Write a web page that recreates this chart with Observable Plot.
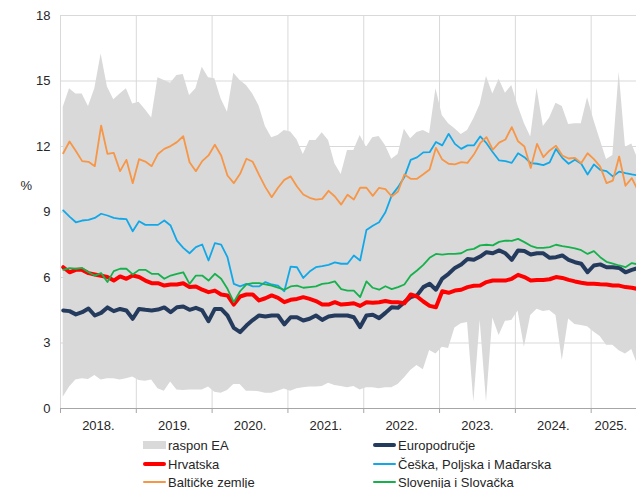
<!DOCTYPE html>
<html>
<head>
<meta charset="utf-8">
<script src="https://cdn.jsdelivr.net/npm/d3@7"></script>
<script src="https://cdn.jsdelivr.net/npm/@observablehq/plot@0.6"></script>
<style>
  html, body { margin: 0; padding: 0; background: #fff; overflow: hidden; }
  #wrap { position: relative; width: 636px; height: 488px; font-family: "Liberation Sans", Arial, sans-serif; }
  #legend { position: absolute; left: 0; top: 432px; width: 636px; height: 56px; font-size: 13px; color: #262626; }
  .item { position: absolute; height: 18px; display: flex; align-items: center; white-space: nowrap; }
  .sw { width: 23px; margin-right: 2px; flex: none; }
</style>
</head>
<body>
<div id="wrap">
  <div id="chart"></div>
  <div id="legend"></div>
</div>
<script>
// Monthly values, Jan 2018 (index 0) .. Aug 2025 (index 91), in %
const bandLow = [0.52,0.98,1.31,1.36,1.33,1.51,1.31,1.36,1.36,1.31, 1.36,1.44,1.28,1.25,1.31,0.90,0.79,1.21,0.85,0.82,
  0.85,0.85,0.85,0.98,0.75,0.70,0.82,1.10,1.10,0.79, 0.79,0.77,0.70,0.70,0.79,0.89,0.79,0.90,0.95,0.98,
  0.98,1.01,1.16,1.05,1.01,0.95,1.01,0.85,0.95,0.95, 0.90,0.95,0.95,1.10,1.40,1.74,1.97,1.77,2.66,2.50,
  2.81,2.75,3.69,3.88,3.94,0.30,4.03,0.30,4.15,3.34, 4.00,4.03,4.46,2.81,4.26,4.55,4.44,4.49,4.26,2.20,
  4.10,3.85,3.80,3.75,3.50,3.30,2.90,2.90,2.65,2.50, 2.70,1.95];
const bandHigh = [13.80,14.64,14.41,14.41,13.83,14.64,16.24,14.72,14.14,14.41, 14.64,13.95,14.03,13.68,13.31,15.15,15.02,14.90,15.25,15.30,
  14.34,14.64,15.63,15.15,15.10,14.18,13.57,15.36,15.02,14.79, 14.41,13.85,12.92,12.40,12.50,12.73,12.66,12.31,11.63,12.27,
  12.27,12.63,12.27,11.21,10.72,11.82,11.82,12.50,11.97,12.40, 12.46,12.05,11.42,11.63,12.79,12.35,12.64,12.73,12.58,14.64,
  13.42,13.04,12.81,12.55,12.73,13.27,13.92,15.21,14.41,15.08, 14.44,14.79,13.86,13.05,12.44,14.67,12.92,13.31,13.98,13.83,
  13.01,13.04,13.04,14.23,13.20,12.30,11.40,11.59,15.40,11.97, 12.12,11.40];
const europodrucje = [4.49,4.46,4.31,4.41,4.58,4.26,4.38,4.63,4.46,4.56, 4.49,4.11,4.56,4.52,4.49,4.53,4.63,4.41,4.64,4.67,
  4.52,4.61,4.49,4.00,4.56,4.56,4.26,3.69,3.50,3.80, 4.05,4.26,4.21,4.26,4.26,3.85,4.18,4.18,4.03,4.11,
  4.26,4.06,4.21,4.26,4.26,4.26,4.18,3.73,4.26,4.29, 4.14,4.38,4.64,4.61,4.87,5.10,5.18,5.56,5.71,5.44,
  5.95,6.17,6.44,6.60,6.85,6.81,6.96,7.16,7.11,7.24, 7.11,6.81,7.24,7.21,7.05,7.11,7.11,6.90,6.93,7.01,
  6.81,6.70,6.63,6.24,6.55,6.60,6.47,6.47,6.44,6.24, 6.35,6.43];
const hrvatska = [6.47,6.24,6.35,6.35,6.20,6.14,6.08,6.02,5.86,6.05, 5.94,6.09,6.02,5.86,5.74,5.74,5.63,5.68,5.68,5.74,
  5.56,5.59,5.44,5.33,5.40,5.22,5.18,4.76,5.13,5.22, 5.22,4.95,5.05,5.18,5.07,4.87,4.98,5.02,5.10,5.02,
  4.92,4.76,4.76,4.87,4.76,4.79,4.82,4.70,4.87,4.84, 4.87,4.92,4.87,4.87,4.82,5.22,5.13,4.90,4.70,4.64,
  5.37,5.30,5.40,5.44,5.56,5.62,5.63,5.79,5.86,5.86, 5.86,5.94,6.12,6.02,5.86,5.89,5.89,5.92,6.02,5.98,
  5.89,5.82,5.76,5.71,5.71,5.69,5.68,5.63,5.63,5.56, 5.53,5.47];
const ceskaPoljskaMadarska = [9.07,8.79,8.53,8.61,8.64,8.73,8.92,8.84,8.73,8.69, 8.67,8.12,8.58,8.41,8.41,8.41,8.61,8.38,7.69,7.36,
  7.11,7.39,7.51,6.78,7.57,7.51,6.93,5.71,5.59,5.71, 5.59,5.59,5.79,5.68,5.63,5.37,6.50,6.47,5.98,6.27,
  6.47,6.52,6.58,6.69,6.63,6.63,7.01,6.78,8.18,8.37, 8.53,8.99,9.76,10.14,10.60,11.39,11.50,11.73,11.74,12.21,
  12.05,12.58,12.12,11.89,12.05,12.05,12.46,12.15,11.74,11.36, 11.33,11.25,11.69,11.51,11.24,11.21,11.15,11.27,11.89,11.48,
  11.21,11.39,11.21,10.72,11.18,10.93,10.87,10.63,10.85,10.78, 10.72,10.67];
const balticke = [11.69,12.23,11.79,11.33,11.30,11.10,12.96,11.66,11.71,10.87, 11.39,10.32,11.42,11.31,11.10,11.66,11.89,12.02,12.20,12.47,
  11.28,10.87,11.33,11.59,12.08,11.59,10.67,10.32,10.75,11.44, 11.30,10.70,10.14,9.68,10.11,10.47,10.63,10.17,9.80,9.65,
  9.57,9.60,9.97,9.71,9.34,9.79,9.57,10.11,10.11,9.74, 10.11,10.05,9.71,9.94,10.72,10.52,10.52,10.73,10.95,11.94,
  11.40,11.21,11.18,11.28,11.25,11.63,12.15,12.43,11.85,12.18, 12.32,12.89,12.24,12.00,11.02,12.12,11.51,11.82,12.03,11.59,
  11.45,11.48,11.24,11.69,11.42,11.08,10.32,10.44,11.54,10.20, 10.55,9.98];
const slovenijaSlovacka = [6.35,6.43,6.40,6.44,6.24,6.09,6.20,5.79,6.29,6.40, 6.40,6.14,6.35,6.35,6.17,6.17,5.94,6.09,6.17,6.24,
  5.71,6.09,6.09,5.86,6.17,5.94,5.48,4.87,5.37,5.68, 5.74,5.74,5.68,5.63,5.54,5.44,5.59,5.63,5.53,5.56,
  5.59,5.71,5.74,5.82,5.47,5.40,5.40,5.10,5.82,5.53, 5.44,5.60,5.47,5.56,5.68,6.09,6.32,6.58,6.90,7.08,
  7.05,7.08,7.08,7.11,7.27,7.31,7.47,7.50,7.47,7.63, 7.69,7.68,7.77,7.62,7.45,7.36,7.36,7.39,7.50,7.44,
  7.39,7.33,7.25,7.08,7.21,6.93,6.72,6.64,6.55,6.47, 6.66,6.60];

const years = [2018, 2019, 2020, 2021, 2022, 2023, 2024, 2025];
const yearLabels = ["2018.", "2019.", "2020.", "2021.", "2022.", "2023.", "2024.", "2025."];
const yTicks = [0, 3, 6, 9, 12, 15, 18];

const seriesNames = ["raspon EA", "Europodručje", "Hrvatska", "Češka, Poljska i Mađarska", "Baltičke zemlje", "Slovenija i Slovačka"];
const seriesColors = ["#d9d9d9", "#243b5e", "#ff0000", "#12a8e8", "#f79646", "#16b14c"];

// table built from the arrays
const rows = bandLow.map((lo, m) => ({
  t: 2018 + (m + 0.43) / 12,
  lo, hi: bandHigh[m],
  ea: europodrucje[m], hr: hrvatska[m], cpm: ceskaPoljskaMadarska[m],
  bal: balticke[m], sisk: slovenijaSlovacka[m]
}));
const xEnd = 2018 + 576 / 75.81;
const labelPos = years.map((y, i) => i < years.length - 1 ? y + 0.5 : (y + xEnd) / 2 - 0.04);
const labelRows = yearLabels.map((txt, i) => ({x: labelPos[i], txt}));

const chart = Plot.plot({
  width: 636,
  height: 432,
  marginLeft: 60,
  marginRight: 0,
  marginTop: 15,
  marginBottom: 24,
  x: {type: "linear", domain: [2018, xEnd]},
  y: {domain: [0, 18]},
  style: {fontFamily: "'Liberation Sans', Arial, sans-serif", fontSize: "13px", color: "#262626", background: "white"},
  marks: [
    Plot.ruleY(yTicks.slice(1), {stroke: "#d9d9d9", strokeWidth: 1}),
    Plot.ruleX(years.slice(1), {y1: 0, y2: 18, stroke: "#d9d9d9", strokeWidth: 1}),
    Plot.ruleX([2018], {y1: 0, y2: 18, stroke: "#d9d9d9", strokeWidth: 1}),
    Plot.areaY(rows, {x: "t", y1: "lo", y2: "hi", fill: seriesColors[0], clip: true}),
    Plot.lineY(rows, {x: "t", y: "ea", stroke: seriesColors[1], strokeWidth: 4, clip: true}),
    Plot.lineY(rows, {x: "t", y: "hr", stroke: seriesColors[2], strokeWidth: 4, clip: true}),
    Plot.lineY(rows, {x: "t", y: "cpm", stroke: seriesColors[3], strokeWidth: 1.8, clip: true}),
    Plot.lineY(rows, {x: "t", y: "bal", stroke: seriesColors[4], strokeWidth: 1.8, clip: true}),
    Plot.lineY(rows, {x: "t", y: "sisk", stroke: seriesColors[5], strokeWidth: 1.8, clip: true}),
    Plot.ruleY([0], {stroke: "#a6a6a6", strokeWidth: 1}),
    Plot.axisX({ticks: years, tickSize: 5, tickFormat: () => "", stroke: "#a6a6a6", label: null}),
    Plot.axisY({ticks: yTicks, tickSize: 0, tickPadding: 10, label: null, fontSize: 13}),
    Plot.text(labelRows, {x: "x", y: 0, dy: 17, text: "txt", fontSize: 13, fill: "#262626"}),
    Plot.text(["%"], {frameAnchor: "left", y: 10.2, dx: -40, text: d => d, fontSize: 13, fill: "#262626"})
  ]
});
document.getElementById("chart").appendChild(chart);

// legend (two columns, row-major like the original)
const legend = document.getElementById("legend");
const colX = [143, 373];
const rowY = [4, 23, 41];
seriesNames.forEach((name, i) => {
  const col = i % 2, row = Math.floor(i / 2);
  const item = document.createElement("div");
  item.className = "item";
  item.style.left = colX[col] + "px";
  item.style.top = rowY[row] + "px";
  const sw = document.createElement("div");
  sw.className = "sw";
  if (i === 0) { sw.style.height = "8px"; sw.style.background = seriesColors[0]; }
  else { sw.style.height = (i <= 2 ? 4 : 2) + "px"; sw.style.background = seriesColors[i]; sw.style.borderRadius = "2px"; }
  item.appendChild(sw);
  const tx = document.createElement("span");
  tx.textContent = name;
  item.appendChild(tx);
  legend.appendChild(item);
});
</script>
</body>
</html>
